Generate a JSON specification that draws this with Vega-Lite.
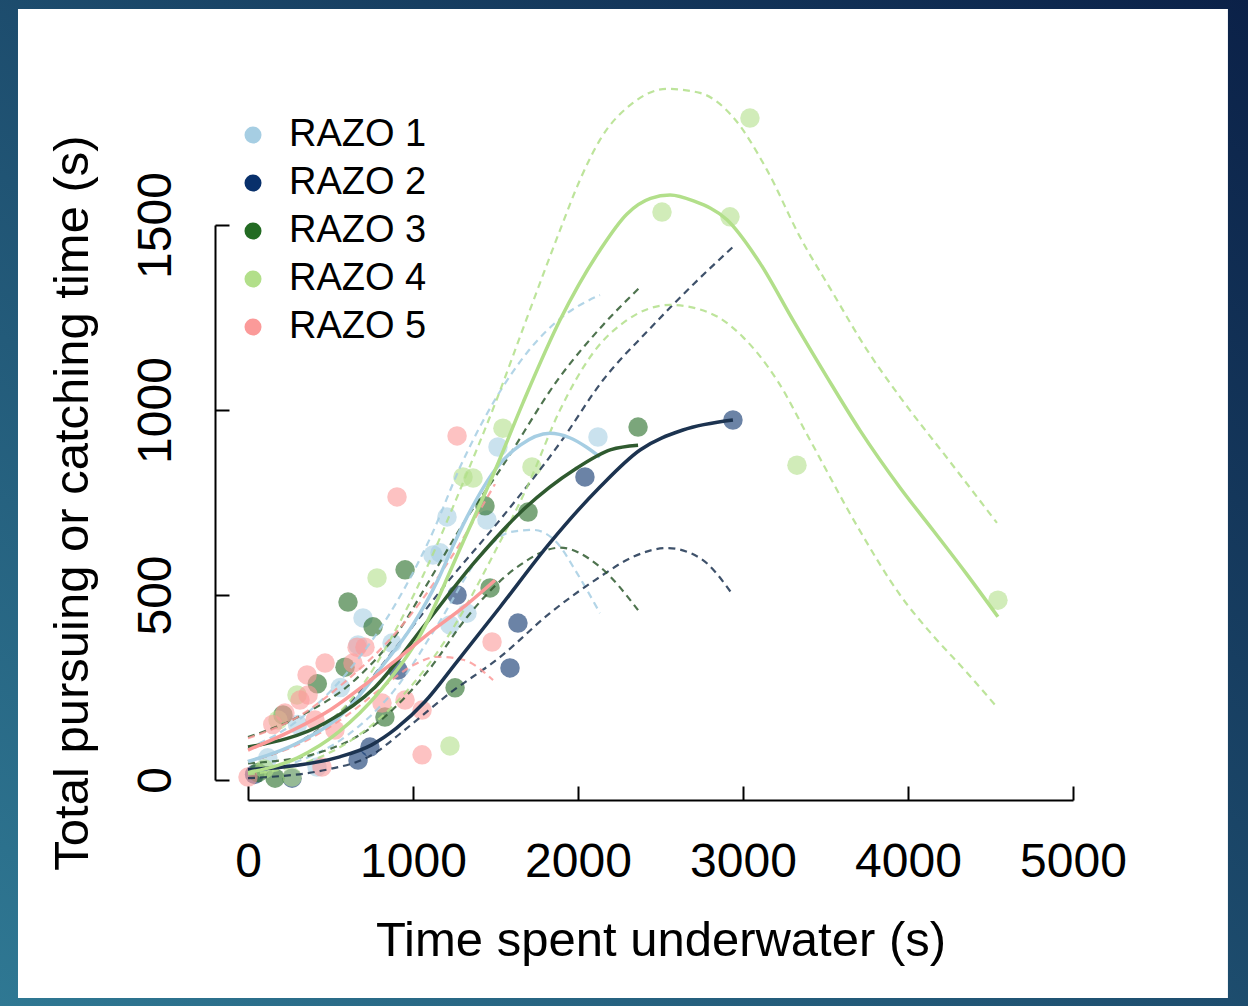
{
"$schema": "https://vega.github.io/schema/vega-lite/v6.json",
"width": 825, "height": 555,
"autosize": {"type": "none"},
"padding": {"left": 248, "top": 225, "right": 175, "bottom": 226},
"background": "#163a5e",
"config": {"view": {"stroke": null}, "font": "Liberation Sans",
"axisX": {"offset": 20, "tickSize": -14, "tickWidth": 2, "tickColor": "black", "domainColor": "black", "domainWidth": 2, "grid": false, "labelFontSize": 48, "labelColor": "black", "labelPadding": 52, "labelFlush": false, "labelOverlap": false, "titleFontSize": 49, "titleFontWeight": "normal", "titleColor": "black", "titlePadding": 30},
"axisY": {"offset": 33, "tickSize": -14, "tickWidth": 2, "tickColor": "black", "domainColor": "black", "domainWidth": 2, "grid": false, "labelAngle": -90, "labelAlign": "center", "labelBaseline": "bottom", "labelFontSize": 48, "labelColor": "black", "labelPadding": 49, "labelFlush": false, "labelOverlap": false, "titleFontSize": 49, "titleFontWeight": "normal", "titleColor": "black", "titlePadding": 35}
},
"datasets": {
"points": [
{"g":"RAZO 1","x":2121,"y":927},{"g":"RAZO 1","x":1515,"y":900},{"g":"RAZO 1","x":1206,"y":711},{"g":"RAZO 1","x":1164,"y":614},{"g":"RAZO 1","x":1448,"y":703},{"g":"RAZO 1","x":1121,"y":608},{"g":"RAZO 1","x":1327,"y":451},{"g":"RAZO 1","x":697,"y":438},{"g":"RAZO 1","x":1224,"y":419},{"g":"RAZO 1","x":667,"y":365},{"g":"RAZO 1","x":418,"y":35},{"g":"RAZO 1","x":873,"y":370},{"g":"RAZO 1","x":300,"y":150},{"g":"RAZO 1","x":120,"y":60},{"g":"RAZO 1","x":560,"y":250},
{"g":"RAZO 2","x":2939,"y":973},{"g":"RAZO 2","x":2042,"y":819},{"g":"RAZO 2","x":1636,"y":424},{"g":"RAZO 2","x":1588,"y":303},{"g":"RAZO 2","x":1267,"y":500},{"g":"RAZO 2","x":909,"y":297},{"g":"RAZO 2","x":739,"y":89},{"g":"RAZO 2","x":667,"y":54},{"g":"RAZO 2","x":267,"y":5},{"g":"RAZO 2","x":40,"y":15},
{"g":"RAZO 3","x":2364,"y":954},{"g":"RAZO 3","x":1697,"y":724},{"g":"RAZO 3","x":1436,"y":741},{"g":"RAZO 3","x":1467,"y":519},{"g":"RAZO 3","x":1255,"y":249},{"g":"RAZO 3","x":952,"y":568},{"g":"RAZO 3","x":606,"y":481},{"g":"RAZO 3","x":758,"y":414},{"g":"RAZO 3","x":588,"y":305},{"g":"RAZO 3","x":212,"y":176},{"g":"RAZO 3","x":830,"y":170},{"g":"RAZO 3","x":164,"y":5},{"g":"RAZO 3","x":60,"y":20},{"g":"RAZO 3","x":420,"y":260},
{"g":"RAZO 4","x":3042,"y":1789},{"g":"RAZO 4","x":2509,"y":1535},{"g":"RAZO 4","x":2921,"y":1522},{"g":"RAZO 4","x":3327,"y":851},{"g":"RAZO 4","x":4545,"y":486},{"g":"RAZO 4","x":1545,"y":951},{"g":"RAZO 4","x":1303,"y":819},{"g":"RAZO 4","x":1364,"y":816},{"g":"RAZO 4","x":1721,"y":846},{"g":"RAZO 4","x":782,"y":546},{"g":"RAZO 4","x":1224,"y":92},{"g":"RAZO 4","x":297,"y":230},{"g":"RAZO 4","x":267,"y":8},{"g":"RAZO 4","x":182,"y":162},{"g":"RAZO 4","x":100,"y":30},
{"g":"RAZO 5","x":1267,"y":930},{"g":"RAZO 5","x":903,"y":765},{"g":"RAZO 5","x":1479,"y":373},{"g":"RAZO 5","x":1055,"y":189},{"g":"RAZO 5","x":1055,"y":68},{"g":"RAZO 5","x":952,"y":216},{"g":"RAZO 5","x":0,"y":8},{"g":"RAZO 5","x":467,"y":316},{"g":"RAZO 5","x":358,"y":284},{"g":"RAZO 5","x":364,"y":230},{"g":"RAZO 5","x":224,"y":181},{"g":"RAZO 5","x":406,"y":162},{"g":"RAZO 5","x":709,"y":359},{"g":"RAZO 5","x":527,"y":135},{"g":"RAZO 5","x":812,"y":208},{"g":"RAZO 5","x":448,"y":35},{"g":"RAZO 5","x":315,"y":216},{"g":"RAZO 5","x":636,"y":316},{"g":"RAZO 5","x":661,"y":359},{"g":"RAZO 5","x":150,"y":150}
],
"fits": [
{"g":"RAZO 1","x":0,"y":50},{"g":"RAZO 1","x":300,"y":100},{"g":"RAZO 1","x":600,"y":190},{"g":"RAZO 1","x":800,"y":300},{"g":"RAZO 1","x":1000,"y":420},{"g":"RAZO 1","x":1150,"y":540},{"g":"RAZO 1","x":1250,"y":640},{"g":"RAZO 1","x":1350,"y":730},{"g":"RAZO 1","x":1500,"y":840},{"g":"RAZO 1","x":1650,"y":905},{"g":"RAZO 1","x":1830,"y":937},{"g":"RAZO 1","x":1950,"y":925},{"g":"RAZO 1","x":2050,"y":900},{"g":"RAZO 1","x":2133,"y":873},
{"g":"RAZO 2","x":0,"y":28},{"g":"RAZO 2","x":300,"y":40},{"g":"RAZO 2","x":550,"y":62},{"g":"RAZO 2","x":750,"y":95},{"g":"RAZO 2","x":900,"y":140},{"g":"RAZO 2","x":1073,"y":212},{"g":"RAZO 2","x":1267,"y":320},{"g":"RAZO 2","x":1527,"y":467},{"g":"RAZO 2","x":1830,"y":641},{"g":"RAZO 2","x":2133,"y":792},{"g":"RAZO 2","x":2376,"y":892},{"g":"RAZO 2","x":2636,"y":946},{"g":"RAZO 2","x":2939,"y":973},
{"g":"RAZO 3","x":0,"y":89},{"g":"RAZO 3","x":467,"y":154},{"g":"RAZO 3","x":770,"y":251},{"g":"RAZO 3","x":1073,"y":420},{"g":"RAZO 3","x":1376,"y":590},{"g":"RAZO 3","x":1679,"y":735},{"g":"RAZO 3","x":1982,"y":840},{"g":"RAZO 3","x":2200,"y":893},{"g":"RAZO 3","x":2364,"y":905},
{"g":"RAZO 4","x":0,"y":20},{"g":"RAZO 4","x":300,"y":60},{"g":"RAZO 4","x":550,"y":130},{"g":"RAZO 4","x":800,"y":240},{"g":"RAZO 4","x":1042,"y":390},{"g":"RAZO 4","x":1300,"y":640},{"g":"RAZO 4","x":1500,"y":840},{"g":"RAZO 4","x":1667,"y":1020},{"g":"RAZO 4","x":1891,"y":1243},{"g":"RAZO 4","x":2133,"y":1432},{"g":"RAZO 4","x":2297,"y":1530},{"g":"RAZO 4","x":2440,"y":1572},{"g":"RAZO 4","x":2558,"y":1581},{"g":"RAZO 4","x":2700,"y":1565},{"g":"RAZO 4","x":2903,"y":1514},{"g":"RAZO 4","x":3103,"y":1397},{"g":"RAZO 4","x":3303,"y":1243},{"g":"RAZO 4","x":3509,"y":1089},{"g":"RAZO 4","x":3709,"y":945},{"g":"RAZO 4","x":3952,"y":790},{"g":"RAZO 4","x":4152,"y":675},{"g":"RAZO 4","x":4358,"y":555},{"g":"RAZO 4","x":4545,"y":441},
{"g":"RAZO 5","x":0,"y":81},{"g":"RAZO 5","x":250,"y":130},{"g":"RAZO 5","x":500,"y":190},{"g":"RAZO 5","x":721,"y":262},{"g":"RAZO 5","x":900,"y":325},{"g":"RAZO 5","x":1121,"y":405},{"g":"RAZO 5","x":1300,"y":465},{"g":"RAZO 5","x":1497,"y":540}
],
"bands": [
{"g":"RAZO 1","k":"lo","x":0,"y":20},{"g":"RAZO 1","k":"lo","x":300,"y":50},{"g":"RAZO 1","k":"lo","x":600,"y":120},{"g":"RAZO 1","k":"lo","x":900,"y":250},{"g":"RAZO 1","k":"lo","x":1150,"y":420},{"g":"RAZO 1","k":"lo","x":1424,"y":614},{"g":"RAZO 1","k":"lo","x":1588,"y":670},{"g":"RAZO 1","k":"lo","x":1727,"y":676},{"g":"RAZO 1","k":"lo","x":1873,"y":641},{"g":"RAZO 1","k":"lo","x":1994,"y":559},{"g":"RAZO 1","k":"lo","x":2133,"y":451},
{"g":"RAZO 1","k":"hi","x":0,"y":85},{"g":"RAZO 1","k":"hi","x":300,"y":160},{"g":"RAZO 1","k":"hi","x":600,"y":290},{"g":"RAZO 1","k":"hi","x":900,"y":480},{"g":"RAZO 1","k":"hi","x":1100,"y":650},{"g":"RAZO 1","k":"hi","x":1300,"y":860},{"g":"RAZO 1","k":"hi","x":1500,"y":1030},{"g":"RAZO 1","k":"hi","x":1700,"y":1160},{"g":"RAZO 1","k":"hi","x":1900,"y":1250},{"g":"RAZO 1","k":"hi","x":2133,"y":1311},
{"g":"RAZO 2","k":"lo","x":0,"y":5},{"g":"RAZO 2","k":"lo","x":467,"y":27},{"g":"RAZO 2","k":"lo","x":770,"y":73},{"g":"RAZO 2","k":"lo","x":921,"y":125},{"g":"RAZO 2","k":"lo","x":1224,"y":235},{"g":"RAZO 2","k":"lo","x":1527,"y":332},{"g":"RAZO 2","k":"lo","x":1830,"y":451},{"g":"RAZO 2","k":"lo","x":2133,"y":549},{"g":"RAZO 2","k":"lo","x":2333,"y":603},{"g":"RAZO 2","k":"lo","x":2539,"y":627},{"g":"RAZO 2","k":"lo","x":2739,"y":600},{"g":"RAZO 2","k":"lo","x":2939,"y":500},
{"g":"RAZO 2","k":"hi","x":0,"y":50},{"g":"RAZO 2","k":"hi","x":300,"y":100},{"g":"RAZO 2","k":"hi","x":600,"y":200},{"g":"RAZO 2","k":"hi","x":900,"y":360},{"g":"RAZO 2","k":"hi","x":1200,"y":530},{"g":"RAZO 2","k":"hi","x":1527,"y":703},{"g":"RAZO 2","k":"hi","x":1891,"y":911},{"g":"RAZO 2","k":"hi","x":2152,"y":1081},{"g":"RAZO 2","k":"hi","x":2436,"y":1220},{"g":"RAZO 2","k":"hi","x":2700,"y":1340},{"g":"RAZO 2","k":"hi","x":2952,"y":1446},
{"g":"RAZO 3","k":"lo","x":0,"y":45},{"g":"RAZO 3","k":"lo","x":400,"y":70},{"g":"RAZO 3","k":"lo","x":800,"y":160},{"g":"RAZO 3","k":"lo","x":1100,"y":300},{"g":"RAZO 3","k":"lo","x":1327,"y":440},{"g":"RAZO 3","k":"lo","x":1630,"y":575},{"g":"RAZO 3","k":"lo","x":1891,"y":628},{"g":"RAZO 3","k":"lo","x":2133,"y":576},{"g":"RAZO 3","k":"lo","x":2364,"y":459},
{"g":"RAZO 3","k":"hi","x":0,"y":116},{"g":"RAZO 3","k":"hi","x":303,"y":170},{"g":"RAZO 3","k":"hi","x":667,"y":278},{"g":"RAZO 3","k":"hi","x":909,"y":400},{"g":"RAZO 3","k":"hi","x":1100,"y":540},{"g":"RAZO 3","k":"hi","x":1300,"y":690},{"g":"RAZO 3","k":"hi","x":1527,"y":838},{"g":"RAZO 3","k":"hi","x":1891,"y":1090},{"g":"RAZO 3","k":"hi","x":2152,"y":1230},{"g":"RAZO 3","k":"hi","x":2376,"y":1332},
{"g":"RAZO 4","k":"lo","x":0,"y":15},{"g":"RAZO 4","k":"lo","x":300,"y":40},{"g":"RAZO 4","k":"lo","x":600,"y":100},{"g":"RAZO 4","k":"lo","x":900,"y":210},{"g":"RAZO 4","k":"lo","x":1200,"y":380},{"g":"RAZO 4","k":"lo","x":1500,"y":620},{"g":"RAZO 4","k":"lo","x":1700,"y":800},{"g":"RAZO 4","k":"lo","x":1891,"y":1000},{"g":"RAZO 4","k":"lo","x":2091,"y":1154},{"g":"RAZO 4","k":"lo","x":2297,"y":1243},{"g":"RAZO 4","k":"lo","x":2558,"y":1284},{"g":"RAZO 4","k":"lo","x":2800,"y":1262},{"g":"RAZO 4","k":"lo","x":3000,"y":1197},{"g":"RAZO 4","k":"lo","x":3206,"y":1081},{"g":"RAZO 4","k":"lo","x":3406,"y":919},{"g":"RAZO 4","k":"lo","x":3700,"y":680},{"g":"RAZO 4","k":"lo","x":3952,"y":500},{"g":"RAZO 4","k":"lo","x":4152,"y":390},{"g":"RAZO 4","k":"lo","x":4358,"y":290},{"g":"RAZO 4","k":"lo","x":4539,"y":197},
{"g":"RAZO 4","k":"hi","x":0,"y":50},{"g":"RAZO 4","k":"hi","x":300,"y":100},{"g":"RAZO 4","k":"hi","x":500,"y":160},{"g":"RAZO 4","k":"hi","x":700,"y":260},{"g":"RAZO 4","k":"hi","x":900,"y":410},{"g":"RAZO 4","k":"hi","x":1100,"y":590},{"g":"RAZO 4","k":"hi","x":1300,"y":800},{"g":"RAZO 4","k":"hi","x":1500,"y":1020},{"g":"RAZO 4","k":"hi","x":1700,"y":1260},{"g":"RAZO 4","k":"hi","x":1891,"y":1486},{"g":"RAZO 4","k":"hi","x":2012,"y":1622},{"g":"RAZO 4","k":"hi","x":2133,"y":1730},{"g":"RAZO 4","k":"hi","x":2333,"y":1830},{"g":"RAZO 4","k":"hi","x":2539,"y":1868},{"g":"RAZO 4","k":"hi","x":2739,"y":1857},{"g":"RAZO 4","k":"hi","x":2939,"y":1792},{"g":"RAZO 4","k":"hi","x":3145,"y":1649},{"g":"RAZO 4","k":"hi","x":3345,"y":1468},{"g":"RAZO 4","k":"hi","x":3545,"y":1316},{"g":"RAZO 4","k":"hi","x":3752,"y":1162},{"g":"RAZO 4","k":"hi","x":3952,"y":1035},{"g":"RAZO 4","k":"hi","x":4255,"y":860},{"g":"RAZO 4","k":"hi","x":4539,"y":695},
{"g":"RAZO 5","k":"lo","x":0,"y":50},{"g":"RAZO 5","k":"lo","x":300,"y":95},{"g":"RAZO 5","k":"lo","x":600,"y":175},{"g":"RAZO 5","k":"lo","x":842,"y":260},{"g":"RAZO 5","k":"lo","x":1000,"y":310},{"g":"RAZO 5","k":"lo","x":1150,"y":333},{"g":"RAZO 5","k":"lo","x":1303,"y":325},{"g":"RAZO 5","k":"lo","x":1485,"y":270},
{"g":"RAZO 5","k":"hi","x":0,"y":113},{"g":"RAZO 5","k":"hi","x":300,"y":170},{"g":"RAZO 5","k":"hi","x":600,"y":270},{"g":"RAZO 5","k":"hi","x":900,"y":400},{"g":"RAZO 5","k":"hi","x":1200,"y":580},{"g":"RAZO 5","k":"hi","x":1497,"y":800}
]
},
"layer": [
{
"data": {"values": [{}]},
"mark": {"type": "rect", "fill": {"gradient": "linear", "x1": 0, "y1": 1, "x2": 1, "y2": 0, "stops": [{"offset": 0, "color": "#2f7893"}, {"offset": 1, "color": "#0b2148"}]}},
"encoding": {
"x": {"datum": -1503, "type": "quantitative", "scale": {"domain": [0, 5000], "nice": false, "zero": false}, "axis": {"zindex": 1, "title": "Time spent underwater (s)", "values": [0, 1000, 2000, 3000, 4000, 5000], "format": "d"}},
"x2": {"datum": 6061},
"y": {"datum": 2108, "type": "quantitative", "scale": {"domain": [0, 1500], "nice": false, "zero": false}, "axis": {"zindex": 1, "title": "Total pursuing or catching time (s)", "values": [0, 500, 1000, 1500], "format": "d"}},
"y2": {"datum": -611}
}
},
{
"data": {"values": [{}]},
"mark": {"type": "rect", "fill": "white"},
"encoding": {
"x": {"datum": -1394, "type": "quantitative", "scale": {"domain": [0, 5000], "nice": false, "zero": false}, "axis": {"zindex": 1, "title": "Time spent underwater (s)", "values": [0, 1000, 2000, 3000, 4000, 5000], "format": "d"}},
"x2": {"datum": 5939},
"y": {"datum": 2084, "type": "quantitative", "scale": {"domain": [0, 1500], "nice": false, "zero": false}, "axis": {"zindex": 1, "title": "Total pursuing or catching time (s)", "values": [0, 500, 1000, 1500], "format": "d"}},
"y2": {"datum": -589}
}
},
{
"data": {"name": "points"},
"mark": {"type": "circle", "size": 380, "opacity": 0.6, "strokeWidth": 0},
"encoding": {
"x": {"field": "x", "type": "quantitative", "scale": {"domain": [0, 5000], "nice": false, "zero": false}, "axis": {"zindex": 1, "title": "Time spent underwater (s)", "values": [0, 1000, 2000, 3000, 4000, 5000], "format": "d"}},
"y": {"field": "y", "type": "quantitative", "scale": {"domain": [0, 1500], "nice": false, "zero": false}, "axis": {"zindex": 1, "title": "Total pursuing or catching time (s)", "values": [0, 500, 1000, 1500], "format": "d"}},
"fill": {"field": "g", "type": "nominal", "scale": {"domain": ["RAZO 1", "RAZO 2", "RAZO 3", "RAZO 4", "RAZO 5"], "range": ["#a6cee3", "#08306b", "#236b23", "#b2df8a", "#fb9a99"]},
"legend": {"orient": "none", "legendX": -14, "legendY": -109, "title": null, "padding": 0, "labelFontSize": 38, "labelColor": "black", "labelFont": "Liberation Sans", "symbolType": "circle", "symbolSize": 290, "symbolOpacity": 1, "symbolStrokeWidth": 0, "labelOffset": 17, "rowPadding": 10}}
}
},
{
"data": {"name": "bands"},
"mark": {"type": "line", "strokeWidth": 2.2, "strokeDash": [7, 5], "interpolate": "monotone", "opacity": 0.85},
"encoding": {
"x": {"field": "x", "type": "quantitative", "scale": {"domain": [0, 5000], "nice": false, "zero": false}, "axis": {"zindex": 1, "title": "Time spent underwater (s)", "values": [0, 1000, 2000, 3000, 4000, 5000], "format": "d"}},
"y": {"field": "y", "type": "quantitative", "scale": {"domain": [0, 1500], "nice": false, "zero": false}, "axis": {"zindex": 1, "title": "Total pursuing or catching time (s)", "values": [0, 500, 1000, 1500], "format": "d"}},
"detail": {"field": "k", "type": "nominal"},
"stroke": {"field": "g", "type": "nominal", "scale": {"domain": ["RAZO 1", "RAZO 2", "RAZO 3", "RAZO 4", "RAZO 5"], "range": ["#a6cee3", "#1c3350", "#2f5a2f", "#b2df8a", "#fb9a99"]}, "legend": null}
}
},
{
"data": {"name": "fits"},
"mark": {"type": "line", "strokeWidth": 3.5, "interpolate": "monotone"},
"encoding": {
"x": {"field": "x", "type": "quantitative", "scale": {"domain": [0, 5000], "nice": false, "zero": false}, "axis": {"zindex": 1, "title": "Time spent underwater (s)", "values": [0, 1000, 2000, 3000, 4000, 5000], "format": "d"}},
"y": {"field": "y", "type": "quantitative", "scale": {"domain": [0, 1500], "nice": false, "zero": false}, "axis": {"zindex": 1, "title": "Total pursuing or catching time (s)", "values": [0, 500, 1000, 1500], "format": "d"}},
"stroke": {"field": "g", "type": "nominal", "scale": {"domain": ["RAZO 1", "RAZO 2", "RAZO 3", "RAZO 4", "RAZO 5"], "range": ["#a6cee3", "#08306b", "#236b23", "#b2df8a", "#fb9a99"]}, "legend": null}
}
}
]
}
